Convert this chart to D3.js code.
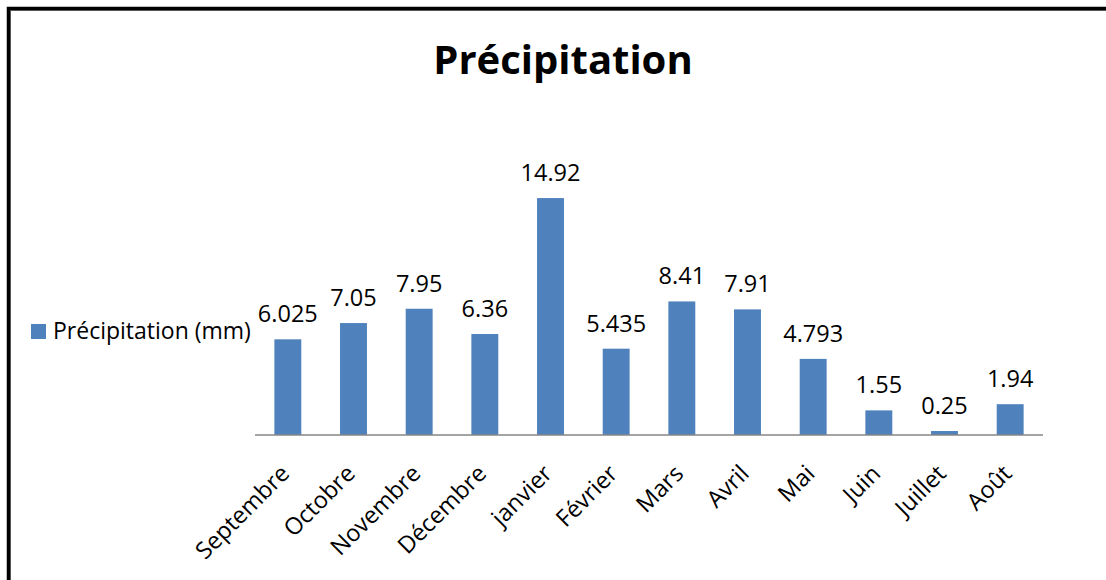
<!DOCTYPE html>
<html>
<meta charset="utf-8">
<style type="text/css">
	body { margin: 0; background: #fff; }
	text { font-family: "Open Sans", Lato, sans-serif; fill: #000; }
	.bar { fill: #4f81bd; }
	.baseline { stroke: #868686; stroke-width: 1.5px; }
</style>
<svg width="1106" height="580"></svg>
<script src="https://d3js.org/d3.v7.min.js"></script>
<script>
	var months = ['Septembre', 'Octobre', 'Novembre', 'Décembre', 'janvier', 'Février',
		'Mars', 'Avril', 'Mai', 'Juin', 'Juillet', 'Août'];
	var rain = [6.025, 7.05, 7.95, 6.36, 14.92, 5.435, 8.41, 7.91, 4.793, 1.55, 0.25, 1.94];
	var labels = ['6.025', '7.05', '7.95', '6.36', '14.92', '5.435', '8.41', '7.91', '4.793', '1.55', '0.25', '1.94'];
	var title = 'Précipitation';
	var seriesName = 'Précipitation (mm)';

	var svg = d3.select('svg');

	// frame of the chart area (runs past the right and bottom edges)
	svg.append('rect')
		.attr('x', 8.5).attr('y', 8.5)
		.attr('width', 1200).attr('height', 700)
		.attr('fill', 'none').attr('stroke', '#000').attr('stroke-width', 3.5);
	svg.append('rect')
		.attr('x', 10.5).attr('y', 10.5)
		.attr('width', 1200).attr('height', 700)
		.attr('fill', 'none').attr('stroke', '#555').attr('stroke-width', 1);

	var x = d3.scaleBand()
		.domain(months)
		.range([255, 1043])
		.paddingInner(0.59)
		.paddingOuter(0.295);

	var y = d3.scaleLinear()
		.domain([0, 16])
		.range([435, 435 - 16 * 15.88]);

	svg.append('text')
		.attr('x', 563).attr('y', 74)
		.attr('text-anchor', 'middle')
		.style('font-size', '40px')
		.style('font-weight', 'bold')
		.text(title);

	svg.selectAll('.bar')
		.data(rain)
		.enter().append('rect')
		.attr('class', 'bar')
		.attr('x', (d, i) => x(months[i]))
		.attr('width', x.bandwidth())
		.attr('y', d => y(d))
		.attr('height', d => y(0) - y(d));

	svg.append('line')
		.attr('class', 'baseline')
		.attr('x1', 255).attr('x2', 1043)
		.attr('y1', y(0)).attr('y2', y(0));

	svg.selectAll('.val')
		.data(rain)
		.enter().append('text')
		.attr('class', 'val')
		.attr('x', (d, i) => x(months[i]) + x.bandwidth() / 2)
		.attr('y', d => y(d) - 17)
		.attr('text-anchor', 'middle')
		.style('font-size', '23.5px')
		.text((d, i) => labels[i]);

	svg.selectAll('.month')
		.data(months)
		.enter().append('text')
		.attr('class', 'month')
		.attr('text-anchor', 'end')
		.attr('transform', d => 'translate(' + (x(d) + x.bandwidth() / 2 + 3) + ',475) rotate(-45)')
		.style('font-size', '23.5px')
		.text(d => d);

	// legend
	svg.append('rect')
		.attr('x', 31).attr('y', 324)
		.attr('width', 15).attr('height', 15)
		.attr('class', 'bar');
	svg.append('text')
		.attr('x', 53).attr('y', 339)
		.style('font-size', '23px')
		.text(seriesName);
</script>
</html>
